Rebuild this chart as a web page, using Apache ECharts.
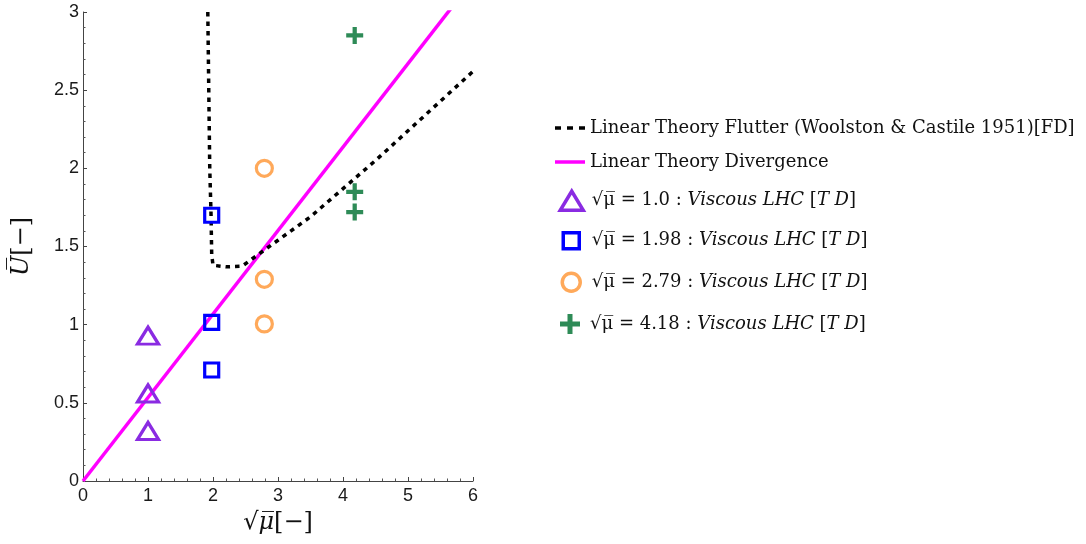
<!DOCTYPE html>
<html>
<head>
<meta charset="utf-8">
<script src="https://cdn.jsdelivr.net/npm/echarts@6/dist/echarts.min.js"></script>
<style>
  html, body { margin: 0; padding: 0; background: #fff; }
  #chart { width: 1086px; height: 544px; }
</style>
</head>
<body>
<div id="chart"></div>
<script>
// Flutter boundary from linear theory (sqrt(mu), U-bar)
const flutterCurve = [
  [1.92, 3.0], [1.935, 2.5], [1.95, 2.0], [1.97, 1.7], [1.98, 1.45], [2.0, 1.38],
  [2.2, 1.37], [2.45, 1.375], [2.6, 1.42], [2.8, 1.48], [3.0, 1.54], [3.5, 1.69],
  [4.0, 1.87], [4.5, 2.05], [5.0, 2.24], [5.5, 2.43], [6.0, 2.62]
];
// Divergence boundary (straight line through the origin)
const divergenceLine = [[0, 0], [6, 3.204]];

// Viscous LHC time-domain runs, one array per mass ratio
const runsMu100 = [[1.0, 0.93], [1.0, 0.56], [1.0, 0.32]];
const runsMu198 = [[1.98, 1.70], [1.98, 1.015], [1.98, 0.71]];
const runsMu279 = [[2.79, 2.0], [2.79, 1.29], [2.79, 1.005]];
const runsMu418 = [[4.18, 2.85], [4.18, 1.85], [4.18, 1.72]];

const xTicks = [0, 1, 2, 3, 4, 5, 6];
const yTicks = [0, 0.5, 1, 1.5, 2, 2.5, 3];

const seriesNames = [
  'Linear Theory Flutter (Woolston & Castile 1951)[FD]',
  'Linear Theory Divergence',
  'mu1.0', 'mu1.98', 'mu2.79', 'mu4.18'
];
const muLabels = { 'mu1.0': '1.0', 'mu1.98': '1.98', 'mu2.79': '2.79', 'mu4.18': '4.18' };

const SERIF = '"DejaVu Serif", serif';
const SANS = '"Liberation Sans", Arial, sans-serif';
const plusPath = 'path://M6,0H10V6H16V10H10V16H6V10H0V6H6Z';
const dashIcon = 'path://M0,0H6V3.5H0Z M12,0H18V3.5H12Z M24,0H30V3.5H24Z';
const solidIcon = 'path://M0,0H30V3.5H0Z';

const colors = {
  flutter: '#000000', divergence: '#ff00ff',
  mu100: '#8a2be2', mu198: '#0000ff', mu279: '#ffa95a', mu418: '#2e8b57'
};

const legendRich = {
  t: { fontFamily: SERIF, fontSize: 18, lineHeight: 22, color: '#111' },
  m: { fontFamily: SERIF, fontSize: 18, lineHeight: 22, color: '#111' },
  i: { fontFamily: SERIF, fontSize: 18, lineHeight: 22, fontStyle: 'italic', color: '#111' }
};
function legendFormatter(name) {
  if (muLabels[name]) {
    return '{m|√μ̅ = ' + muLabels[name] + ' : }{i|Viscous LHC }{m|[}{i|T D}{m|]}';
  }
  return '{t|' + name + '}';
}
// legend rows: icon box (left, w, h) and text pushed to a common start column
const TEXT_X = 590;
const legendRows = [
  { name: seriesNames[0], center: 130, left: 555, w: 30, h: 3.5, icon: dashIcon, color: colors.flutter, fill: true },
  { name: seriesNames[1], center: 164, left: 555, w: 30, h: 3.5, icon: solidIcon, color: colors.divergence, fill: true },
  { name: seriesNames[2], center: 200.5, left: 558.5, w: 23, h: 19, icon: 'triangle', color: colors.mu100 },
  { name: seriesNames[3], center: 242, left: 561.5, w: 16, h: 16, icon: 'rect', color: colors.mu198 },
  { name: seriesNames[4], center: 282.5, left: 560.5, w: 18, h: 18, icon: 'circle', color: colors.mu279 },
  { name: seriesNames[5], center: 325, left: 560, w: 20, h: 20, icon: plusPath, color: colors.mu418, fill: true }
];

const chart = echarts.init(document.getElementById('chart'), null, { renderer: 'canvas' });

const axisCommon = {
  type: 'value',
  axisLine: { show: true, onZero: false, lineStyle: { color: '#444', width: 1 } },
  axisTick: { show: true, inside: true, length: 4, lineStyle: { color: '#444' } },
  minorTick: { show: true, splitNumber: 5, length: 2.5, lineStyle: { color: '#555' } },
  splitLine: { show: false },
  axisLabel: { fontFamily: SANS, fontSize: 18, color: '#1a1a1a' }
};

chart.setOption({
  animation: false,
  backgroundColor: '#fff',
  grid: { left: 83, top: 12, width: 390, height: 469, containLabel: false },
  xAxis: Object.assign({}, axisCommon, {
    min: xTicks[0], max: xTicks[xTicks.length - 1], interval: 1,
    axisLabel: Object.assign({}, axisCommon.axisLabel, { margin: 6 }),
    name: '{m|√μ̅}{b|[−]}',
    nameLocation: 'middle',
    nameGap: 30,
    nameTextStyle: {
      rich: {
        m: { fontFamily: SERIF, fontSize: 24, fontStyle: 'italic', color: '#111' },
        b: { fontFamily: SERIF, fontSize: 24, color: '#111' }
      }
    }
  }),
  yAxis: Object.assign({}, axisCommon, {
    min: yTicks[0], max: yTicks[yTicks.length - 1], interval: 0.5,
    axisLabel: Object.assign({}, axisCommon.axisLabel, { margin: 4 }),
    name: '{u|U̅}{b|[−]}',
    nameLocation: 'middle',
    nameGap: 49,
    nameTextStyle: {
      rich: {
        u: { fontFamily: SERIF, fontSize: 24, fontStyle: 'italic', color: '#111' },
        b: { fontFamily: SERIF, fontSize: 24, color: '#111' }
      }
    }
  }),
  legend: legendRows.map(r => ({
    data: [{
      name: r.name,
      icon: r.icon,
      itemStyle: r.fill
        ? { color: r.color, borderWidth: 0 }
        : { color: 'rgba(255,255,255,0)', borderColor: r.color, borderWidth: 3.5 }
    }],
    left: r.left,
    top: r.center - 11,
    orient: 'vertical',
    padding: 0,
    itemWidth: r.w,
    itemHeight: r.h,
    selectedMode: false,
    formatter: legendFormatter,
    textStyle: {
      rich: legendRich, fontFamily: SERIF, fontSize: 18,
      padding: [0, 0, 0, TEXT_X - (r.left + r.w + 5)]
    }
  })),
  series: [
    {
      name: seriesNames[0], type: 'line', data: flutterCurve, showSymbol: false, symbol: 'none',
      itemStyle: { color: colors.flutter },
      lineStyle: { color: colors.flutter, width: 3.5, type: [4.5, 5] }, z: 3
    },
    {
      name: seriesNames[1], type: 'line', data: divergenceLine, showSymbol: false, symbol: 'none',
      itemStyle: { color: colors.divergence },
      lineStyle: { color: colors.divergence, width: 3.5 }, z: 2
    },
    {
      name: seriesNames[2], type: 'scatter', data: runsMu100, symbol: 'triangle', symbolSize: [21, 17],
      itemStyle: { color: 'rgba(255,255,255,0)', borderColor: colors.mu100, borderWidth: 3.2, opacity: 1 }, z: 4
    },
    {
      name: seriesNames[3], type: 'scatter', data: runsMu198, symbol: 'rect', symbolSize: 14,
      itemStyle: { color: 'rgba(255,255,255,0)', borderColor: colors.mu198, borderWidth: 3.2, opacity: 1 }, z: 4
    },
    {
      name: seriesNames[4], type: 'scatter', data: runsMu279, symbol: 'circle', symbolSize: 16,
      itemStyle: { color: 'rgba(255,255,255,0)', borderColor: colors.mu279, borderWidth: 3.2, opacity: 1 }, z: 4
    },
    {
      name: seriesNames[5], type: 'scatter', data: runsMu418, symbol: plusPath, symbolSize: 17,
      itemStyle: { color: colors.mu418, opacity: 1 }, z: 4
    }
  ]
});
</script>
</body>
</html>
